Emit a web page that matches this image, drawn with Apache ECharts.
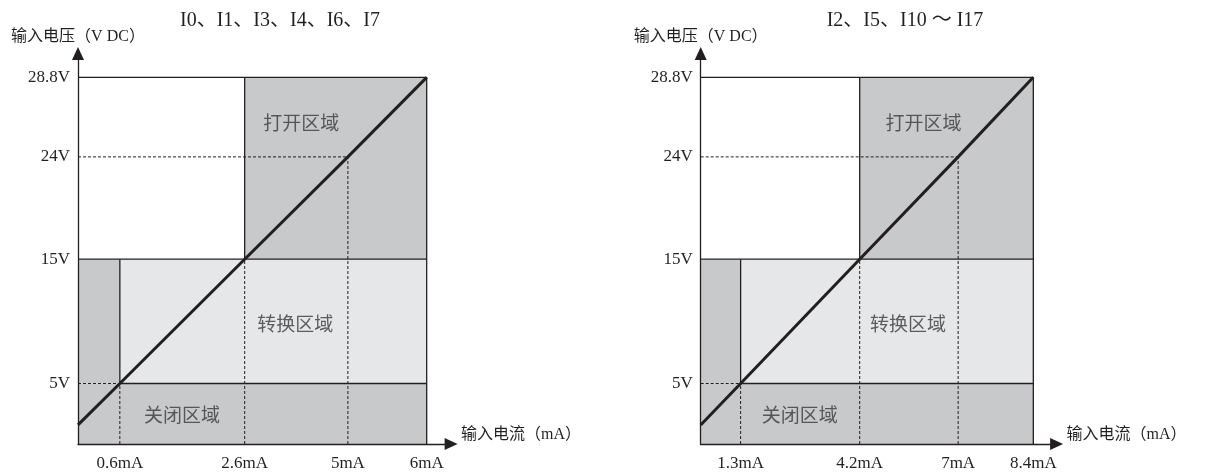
<!DOCTYPE html>
<html>
<head>
<meta charset="utf-8">
<script src="https://cdn.jsdelivr.net/npm/echarts@6/dist/echarts.min.js"></script>
<style>
  html, body { margin: 0; padding: 0; background: #fff; }
  #chart { width: 1207px; height: 472px; }
</style>
</head>
<body>
<div id="chart"></div>
<script>
// schematic: both panels share the same geometry (0-100 of the plot box)
const xTickPos = [12, 47.8, 77.4, 100];
const yTickPos = [16.5, 50.4, 78.3, 100];
const yTickLabels = ['5V', '15V', '24V', '28.8V'];
const leftXLabels = ['0.6mA', '2.6mA', '5mA', '6mA'];
const rightXLabels = ['1.3mA', '4.2mA', '7mA', '8.4mA'];
const leftTitle = 'I0、I1、I3、I4、I6、I7';
const rightTitle = 'I2、I5、I10 ～ I17';
const lineStartY = 5.2; // where the characteristic meets the voltage axis
const regionNames = ['打开区域', '转换区域', '关闭区域'];

const INK = '#231f20';
const DARK = '#c8c9cb';
const LIGHT = '#e6e7e8';
const FONT = '"Liberation Serif", "Noto Sans CJK SC", serif';

const [x1, x2, x3, x4] = xTickPos;
const [y1, y2, y3, y4] = yTickPos;

// filled zones: [xa, ya, xb, yb, colour index]
const zones = [
  [0, 0, x4, y1, 0],
  [0, y1, x1, y2, 0],
  [x1, y1, x4, y2, 1],
  [0, y2, x2, y4, 2],
  [x2, y2, x4, y4, 0]
];
const zoneColors = [DARK, LIGHT, '#ffffff'];

// borders and guides: [xa, ya, xb, yb, dotted]
const segments = [
  [0, y4, x4, y4, 0],
  [x4, 0, x4, y4, 0],
  [0, y2, x4, y2, 0],
  [x1, y1, x4, y1, 0],
  [x1, y1, x1, y2, 0],
  [x2, y2, x2, y4, 0],
  [x1, 0, x1, y1, 1],
  [0, y1, x1, y1, 1],
  [x2, 0, x2, y2, 1],
  [x3, 0, x3, y3, 1],
  [0, y3, x3, y3, 1]
];

const lineData = [[0, lineStartY]].concat(xTickPos.map((x, i) => [x, yTickPos[i]]));

const panels = [
  { grid: { left: 78, top: 53.5, width: 373.1, height: 390.5 }, xLabels: leftXLabels, title: leftTitle, titleX: 275, onX: 64 },
  { grid: { left: 700.7, top: 53.5, width: 355.9, height: 390.5 }, xLabels: rightXLabels, title: rightTitle, titleX: 900, onX: 67 }
];

const axisLine = {
  show: true,
  symbol: ['none', 'triangle'],
  symbolSize: [12, 13],
  lineStyle: { color: INK, width: 1.3 }
};

const option = {
  animation: false,
  textStyle: { fontFamily: FONT },
  title: panels.map(p => ({
    text: p.title,
    left: p.titleX,
    top: 6,
    textAlign: 'center',
    textStyle: { fontFamily: FONT, fontSize: 20, fontWeight: 'normal', color: INK }
  })),
  grid: panels.map(p => p.grid),
  xAxis: panels.map((p, i) => ({
    type: 'value',
    gridIndex: i,
    z: 5,
    min: 0,
    max: 107,
    axisLine: axisLine,
    axisTick: { show: false },
    splitLine: { show: false },
    axisLabel: {
      customValues: xTickPos,
      formatter: v => p.xLabels[xTickPos.indexOf(v)] || '',
      margin: 11,
      fontSize: 17,
      color: INK,
      fontFamily: FONT
    },
    name: '输入电流（mA）',
    nameLocation: 'end',
    nameGap: 10,
    nameTextStyle: { fontSize: 16, color: INK, fontFamily: FONT, align: 'left', verticalAlign: 'bottom', padding: [0, 0, 1, 0] }
  })),
  yAxis: panels.map((p, i) => ({
    type: 'value',
    gridIndex: i,
    z: 5,
    min: 0,
    max: 106.5,
    axisLine: axisLine,
    axisTick: { show: false },
    splitLine: { show: false },
    axisLabel: {
      customValues: yTickPos,
      formatter: v => yTickLabels[yTickPos.indexOf(v)] || '',
      margin: 8,
      fontSize: 17,
      color: INK,
      fontFamily: FONT
    },
    name: '输入电压（V DC）',
    nameLocation: 'end',
    nameGap: 9,
    nameTextStyle: { fontSize: 16, color: INK, fontFamily: FONT, align: 'center' }
  })),
  series: []
};

panels.forEach((p, i) => {
  option.series.push({
    type: 'custom',
    xAxisIndex: i,
    yAxisIndex: i,
    z: 1,
    silent: true,
    data: zones,
    renderItem: (params, api) => {
      const a = api.coord([api.value(0), api.value(3)]);
      const b = api.coord([api.value(2), api.value(1)]);
      return {
        type: 'rect',
        shape: { x: a[0], y: a[1], width: b[0] - a[0], height: b[1] - a[1] },
        style: { fill: zoneColors[api.value(4)] }
      };
    }
  });
  option.series.push({
    type: 'custom',
    xAxisIndex: i,
    yAxisIndex: i,
    z: 2,
    silent: true,
    data: segments,
    renderItem: (params, api) => {
      const a = api.coord([api.value(0), api.value(1)]);
      const b = api.coord([api.value(2), api.value(3)]);
      const dotted = api.value(4) === 1;
      return {
        type: 'line',
        shape: { x1: a[0], y1: a[1], x2: b[0], y2: b[1] },
        style: { stroke: INK, lineWidth: dotted ? 1 : 1.3, lineDash: dotted ? [3, 2] : null }
      };
    }
  });
  option.series.push({
    type: 'line',
    xAxisIndex: i,
    yAxisIndex: i,
    z: 3,
    showSymbol: false,
    silent: true,
    data: lineData,
    lineStyle: { color: INK, width: 3 }
  });
  option.series.push({
    type: 'scatter',
    xAxisIndex: i,
    yAxisIndex: i,
    z: 4,
    symbolSize: 0,
    silent: true,
    label: {
      show: true,
      position: 'inside',
      formatter: '{b}',
      fontSize: 19,
      color: '#3a3a3a',
      fontFamily: '"Noto Sans CJK SC", sans-serif'
    },
    data: [
      { name: regionNames[0], value: [p.onX, 87.5] },
      { name: regionNames[1], value: [62.3, 32.7] },
      { name: regionNames[2], value: [29.8, 7.9] }
    ]
  });
});

const myChart = echarts.init(document.getElementById('chart'));
myChart.setOption(option);
</script>
</body>
</html>
